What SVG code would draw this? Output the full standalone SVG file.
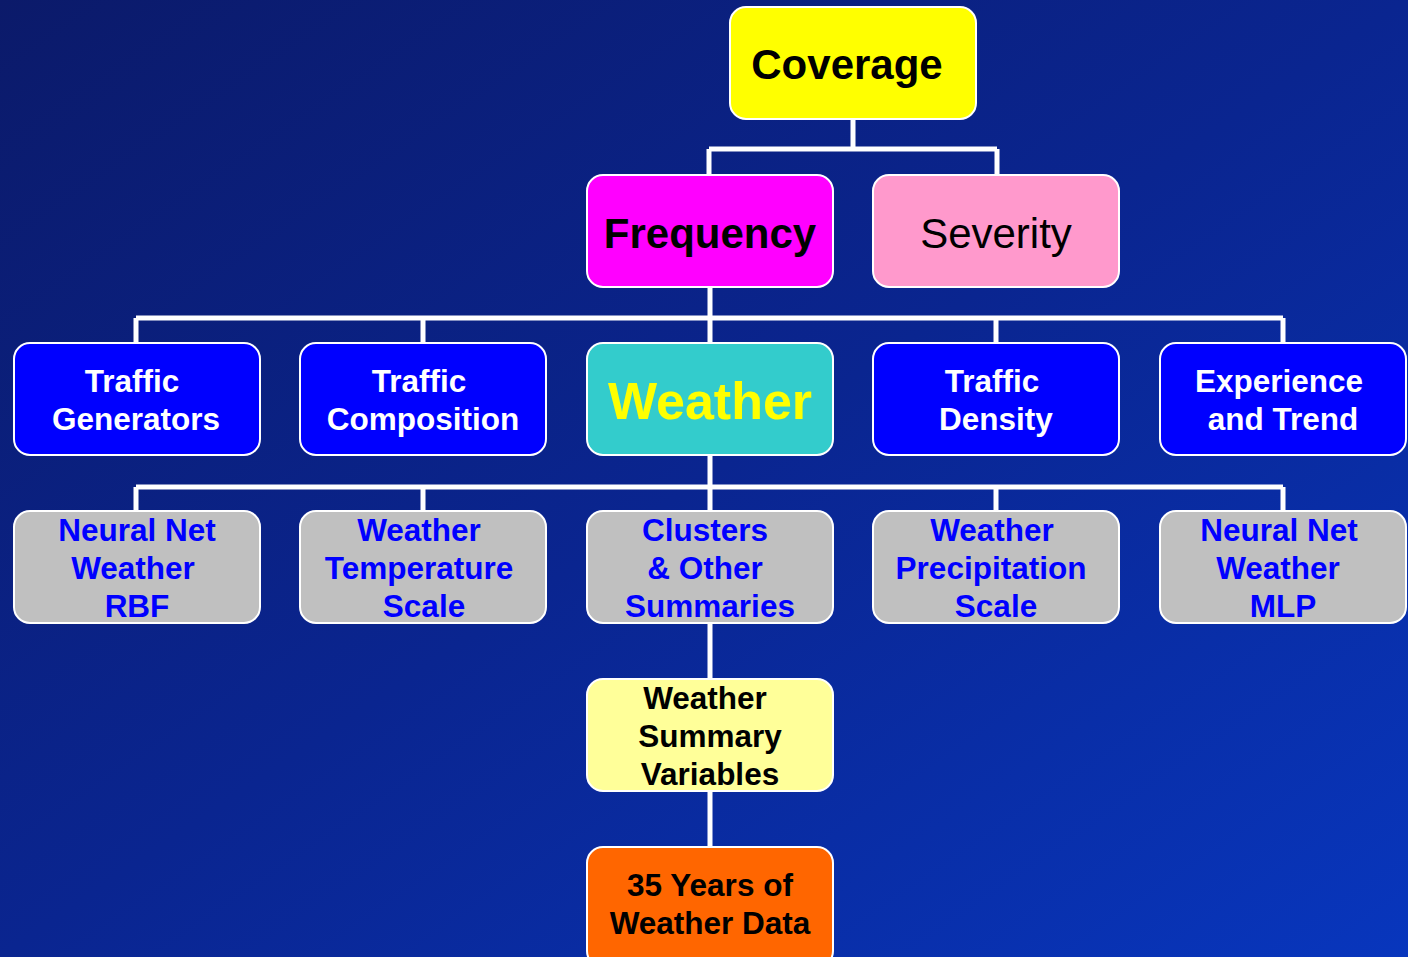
<svg xmlns="http://www.w3.org/2000/svg" width="1408" height="957" viewBox="0 0 1408 957">
<defs>
<linearGradient id="bg" x1="0" y1="0" x2="1" y2="1">
<stop offset="0" stop-color="#0b1a6a"/>
<stop offset="0.5" stop-color="#0a2590"/>
<stop offset="1" stop-color="#0836bd"/>
</linearGradient>
<style>
.box{stroke:#ffffff;stroke-width:2}
.t{font-family:"Liberation Sans",Arial,sans-serif;font-weight:bold;text-anchor:middle}
.w{fill:#ffffff;font-size:31.5px}
.b{fill:#0000ff;font-size:31.5px}
.k{fill:#000000;font-size:31.5px}
.conn{stroke:#ffffff;stroke-width:5;fill:none}
</style>
</defs>
<rect width="1408" height="957" fill="url(#bg)"/>
<g id="connectors" class="conn">
<path d="M853 119V149M709 149H997M709 149V175M997 149V175"/>
<path d="M710 287V343M136 318H1283M136 318V343M423 318V343M996 318V343M1283 318V343"/>
<path d="M710 455V511M136 487H1283M136 487V511M423 487V511M996 487V511M1283 487V511"/>
<path d="M710 623V679M710 791V847"/>
</g>
<g id="coverage"><rect class="box" x="730" y="7" width="246" height="112" rx="16" fill="#ffff00"/><text class="t" x="847" y="79" font-size="42" fill="#000">Coverage</text></g>
<g id="frequency"><rect class="box" x="587" y="175" width="246" height="112" rx="16" fill="#ff00ff"/><text class="t" x="710" y="248" font-size="42" fill="#000">Frequency</text></g>
<g id="severity"><rect class="box" x="873" y="175" width="246" height="112" rx="16" fill="#ff99cc"/><text x="996" y="248" font-size="42" fill="#000" font-family="Liberation Sans,Arial,sans-serif" text-anchor="middle">Severity</text></g>
<g id="traffic-generators"><rect class="box" x="14" y="343" width="246" height="112" rx="16" fill="#0000ff"/><text class="t w"><tspan x="132" y="392">Traffic</tspan><tspan x="136" y="430">Generators</tspan></text></g>
<g id="traffic-composition"><rect class="box" x="300" y="343" width="246" height="112" rx="16" fill="#0000ff"/><text class="t w"><tspan x="419" y="392">Traffic</tspan><tspan x="423" y="430">Composition</tspan></text></g>
<g id="weather"><rect class="box" x="587" y="343" width="246" height="112" rx="16" fill="#33cccc"/><text class="t" x="710" y="419" font-size="52" fill="#ffff00">Weather</text></g>
<g id="traffic-density"><rect class="box" x="873" y="343" width="246" height="112" rx="16" fill="#0000ff"/><text class="t w"><tspan x="992" y="392">Traffic</tspan><tspan x="996" y="430">Density</tspan></text></g>
<g id="experience-trend"><rect class="box" x="1160" y="343" width="246" height="112" rx="16" fill="#0000ff"/><text class="t w"><tspan x="1279" y="392">Experience</tspan><tspan x="1283" y="430">and Trend</tspan></text></g>
<g id="nn-rbf"><rect class="box" x="14" y="511" width="246" height="112" rx="16" fill="#c0c0c0"/><text class="t b"><tspan x="137" y="541">Neural Net</tspan><tspan x="133" y="579">Weather</tspan><tspan x="137" y="617">RBF</tspan></text></g>
<g id="temperature"><rect class="box" x="300" y="511" width="246" height="112" rx="16" fill="#c0c0c0"/><text class="t b"><tspan x="419" y="541">Weather</tspan><tspan x="419" y="579">Temperature</tspan><tspan x="424" y="617">Scale</tspan></text></g>
<g id="clusters"><rect class="box" x="587" y="511" width="246" height="112" rx="16" fill="#c0c0c0"/><text class="t b"><tspan x="705" y="541">Clusters</tspan><tspan x="705" y="579">&amp; Other</tspan><tspan x="710" y="617">Summaries</tspan></text></g>
<g id="precipitation"><rect class="box" x="873" y="511" width="246" height="112" rx="16" fill="#c0c0c0"/><text class="t b"><tspan x="992" y="541">Weather</tspan><tspan x="991" y="579">Precipitation</tspan><tspan x="996" y="617">Scale</tspan></text></g>
<g id="nn-mlp"><rect class="box" x="1160" y="511" width="246" height="112" rx="16" fill="#c0c0c0"/><text class="t b"><tspan x="1279" y="541">Neural Net</tspan><tspan x="1278" y="579">Weather</tspan><tspan x="1283" y="617">MLP</tspan></text></g>
<g id="summary-vars"><rect class="box" x="587" y="679" width="246" height="112" rx="16" fill="#ffff99"/><text class="t k"><tspan x="705" y="709">Weather</tspan><tspan x="710" y="747">Summary</tspan><tspan x="710" y="785">Variables</tspan></text></g>
<g id="weather-data"><rect class="box" x="587" y="847" width="246" height="120" rx="16" fill="#ff6600"/><text class="t k"><tspan x="710" y="896">35 Years of</tspan><tspan x="710" y="934">Weather Data</tspan></text></g>
</svg>
